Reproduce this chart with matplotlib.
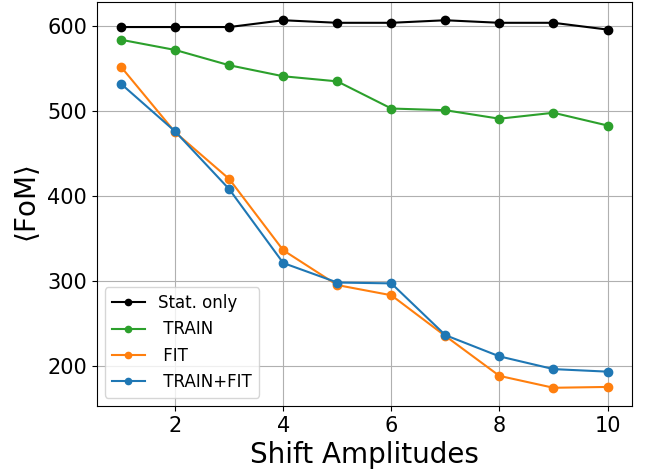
import numpy as np
from matplotlib import pyplot as plt

shifts = [1, 2, 3, 4, 5, 6, 7, 8, 9, 10]
stat_only = [599, 599, 599, 607, 604, 604, 607, 604, 604, 596]
train = [584, 572, 554, 541, 535, 503, 501, 491, 498, 483]
fit = [552, 475, 420, 336, 295, 283, 235, 188, 174, 175]
train_fit = [532, 476, 408, 321, 298, 297, 236, 211, 196, 193]

fig = plt.figure(figsize=(6.63, 4.69), dpi=100)
ax = fig.add_subplot(111)
fig.subplots_adjust(left=0.146, right=0.953, top=0.996, bottom=0.134)

ax.plot(shifts, stat_only, 'o-', color='black', ms=6, label='Stat. only')
ax.plot(shifts, train, 'o-', color='tab:green', ms=6, label=' TRAIN')
ax.plot(shifts, fit, 'o-', color='tab:orange', ms=6, label=' FIT')
ax.plot(shifts, train_fit, 'o-', color='tab:blue', ms=6, label=' TRAIN+FIT')

ax.grid(True)
ax.set_xticks([2, 4, 6, 8, 10])
ax.set_yticks([200, 300, 400, 500, 600])
ax.tick_params(labelsize=15)
ax.set_xlabel('Shift Amplitudes', fontsize=20)
ax.set_ylabel(r'$\langle$FoM$\rangle$', fontsize=20)
ax.legend(loc='lower left', fontsize=12, markerscale=0.75)

plt.savefig('out.png', dpi=100)
